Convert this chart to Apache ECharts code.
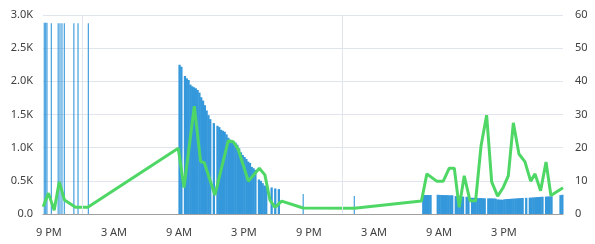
<!DOCTYPE html>
<html>
<head>
<meta charset="utf-8">
<script src="https://cdn.jsdelivr.net/npm/echarts@6/dist/echarts.min.js"></script>
<style>
html,body{margin:0;padding:0;background:#fff;}
#chart{width:595px;height:244px;}
</style>
</head>
<body>
<div id="chart"></div>
<script>
// Time is expressed in minutes from the first midnight shown.
var xTickMinutes = [-180, 180, 540, 900, 1260, 1620, 1980, 2340];
var xTickLabels = ['9 PM', '3 AM', '9 AM', '3 PM', '9 PM', '3 AM', '9 AM', '3 PM'];
var dayBoundaries = [0, 1440];

// Isolated bars (left axis)
var sparseBarMinutes = [-206, -198, -191, -167, -129, -119, -108, -95, -42, -19, 38, 1228, 1511];
var sparseBarValues = [2885, 2885, 2885, 2875, 2875, 2875, 2875, 2875, 2875, 2875, 2875, 300, 270];

// Densely sampled bars (left axis)
var denseBarMinutes = [
  540, 550, 570, 580, 590, 600, 610, 620, 630, 640, 650, 660, 670, 680, 690, 700, 710,
  730, 750, 760, 770, 780, 790, 800, 810, 820, 830, 840, 850, 860, 870, 880, 890, 900,
  910, 920, 930, 940, 950, 960, 980, 990, 1000, 1010, 1020, 1050, 1070, 1090,
  1890, 1900, 1910, 1920, 1930,
  1970, 1980, 1990, 2000, 2010, 2020, 2030, 2040, 2050,
  2070, 2080, 2090, 2100, 2110, 2130, 2140, 2160, 2170, 2180, 2190, 2200, 2210, 2220, 2230,
  2250, 2260, 2270, 2280, 2290, 2300, 2310, 2320, 2330, 2340, 2350, 2360, 2370, 2380,
  2390, 2400, 2410, 2420, 2430, 2440, 2460, 2480, 2490, 2500, 2510, 2520, 2530, 2540,
  2550, 2570, 2580, 2590, 2600, 2650, 2660
];
var denseBarValues = [
  2250, 2220, 2080, 2045, 2020, 1950, 1925, 1910, 1895, 1870, 1830, 1760, 1710, 1640, 1560, 1490, 1430,
  1370, 1330, 1310, 1270, 1255, 1240, 1200, 1150, 1120, 1100, 1090, 1075, 1045, 990, 930, 890, 860,
  830, 790, 770, 710, 690, 665, 520, 500, 465, 430, 420, 400, 385, 375,
  286, 286, 286, 286, 286,
  290, 288, 286, 286, 284, 285, 283, 282, 282,
  270, 268, 266, 265, 262, 260, 258, 245, 244, 243, 242, 240, 240, 238, 237,
  236, 236, 235, 234, 232, 220, 218, 216, 215, 222, 225, 226, 228, 230,
  232, 234, 236, 238, 240, 242, 244, 246, 248, 250, 252, 254, 256, 258,
  260, 262, 264, 266, 268, 285, 290
];

// Line series (right axis)
var lineMinutes = [
  -212, -183, -151, -123, -94, -33, 35,
  536, 568, 625, 660, 680, 739, 813, 841, 868, 924, 985, 1016, 1044, 1072, 1109,
  1228, 1511,
  1883, 1913, 1967, 2004, 2037, 2065, 2092, 2120, 2152, 2183, 2213, 2244, 2272,
  2305, 2336, 2364, 2392, 2423, 2456, 2488, 2512, 2543, 2573, 2600, 2667
];
var lineValues = [
  2.2, 6.3, 1.1, 9.7, 4.2, 2.0, 2.0,
  19.8, 8.0, 32.5, 15.8, 15.5, 5.7, 22.1, 21.8, 19.5, 9.9, 13.8, 11.8, 4.2, 2.0, 3.9,
  1.8, 1.7,
  3.9, 12.1, 9.9, 9.9, 13.8, 13.8, 2.0, 11.5, 4.0, 4.0, 20.5, 29.8, 9.7,
  5.4, 8.0, 11.5, 27.5, 18.1, 15.8, 9.9, 12.1, 7.0, 15.7, 5.6, 7.9
];

var leftTicks = {min: 0, max: 3000, interval: 500};
var rightTicks = {min: 0, max: 60, interval: 10};

function pairs(xs, ys) { return xs.map(function (x, i) { return [x, ys[i]]; }); }

var FONT = 'Noto Sans';
var TEXT = '#404040';
var GRID = '#e0e4ec';
var BAR = '#3498db';
var LINE = '#4fd766';

var chart = echarts.init(document.getElementById('chart'), null, {renderer: 'canvas'});
chart.setOption({
  animation: false,
  grid: {left: 43, right: 32, top: 15, bottom: 30, containLabel: false},
  xAxis: {
    type: 'value',
    min: -213,
    max: 2667,
    axisLine: {show: true, lineStyle: {color: '#a0a0a0', width: 1}},
    axisTick: {show: false},
    splitLine: {show: false},
    axisLabel: {
      customValues: xTickMinutes,
      margin: 13,
      color: TEXT,
      fontFamily: FONT,
      fontSize: 11,
      formatter: function (v) {
        var i = xTickMinutes.indexOf(v);
        return i >= 0 ? xTickLabels[i] : '';
      }
    }
  },
  yAxis: [
    {
      type: 'value',
      min: leftTicks.min, max: leftTicks.max, interval: leftTicks.interval,
      axisLine: {show: false}, axisTick: {show: false},
      splitLine: {show: true, lineStyle: {color: GRID, width: 1}},
      axisLabel: {
        margin: 10, color: TEXT, fontFamily: FONT, fontSize: 11,
        formatter: function (v) { return (v / 1000).toFixed(1) + (v === 0 ? '' : 'K'); }
      }
    },
    {
      type: 'value',
      position: 'right',
      min: rightTicks.min, max: rightTicks.max, interval: rightTicks.interval,
      axisLine: {show: false}, axisTick: {show: false},
      splitLine: {show: false},
      axisLabel: {margin: 12, color: TEXT, fontFamily: FONT, fontSize: 11}
    }
  ],
  series: [
    {
      type: 'bar',
      yAxisIndex: 0,
      data: pairs(denseBarMinutes, denseBarValues),
      barWidth: 2.3,
      barGap: '-100%',
      itemStyle: {color: BAR},
      z: 2,
      markLine: {
        silent: true,
        symbol: ['none', 'none'],
        label: {show: false},
        lineStyle: {color: GRID, width: 1, type: 'solid'},
        data: dayBoundaries.map(function (d) { return {xAxis: d}; })
      }
    },
    {
      type: 'bar',
      yAxisIndex: 0,
      data: pairs(sparseBarMinutes, sparseBarValues),
      barWidth: 1.1,
      barGap: '-100%',
      itemStyle: {color: BAR},
      z: 2
    },
    {
      type: 'line',
      yAxisIndex: 1,
      data: pairs(lineMinutes, lineValues),
      showSymbol: false,
      symbol: 'none',
      lineStyle: {color: LINE, width: 3},
      itemStyle: {color: LINE},
      z: 3
    }
  ]
});
</script>
</body>
</html>
